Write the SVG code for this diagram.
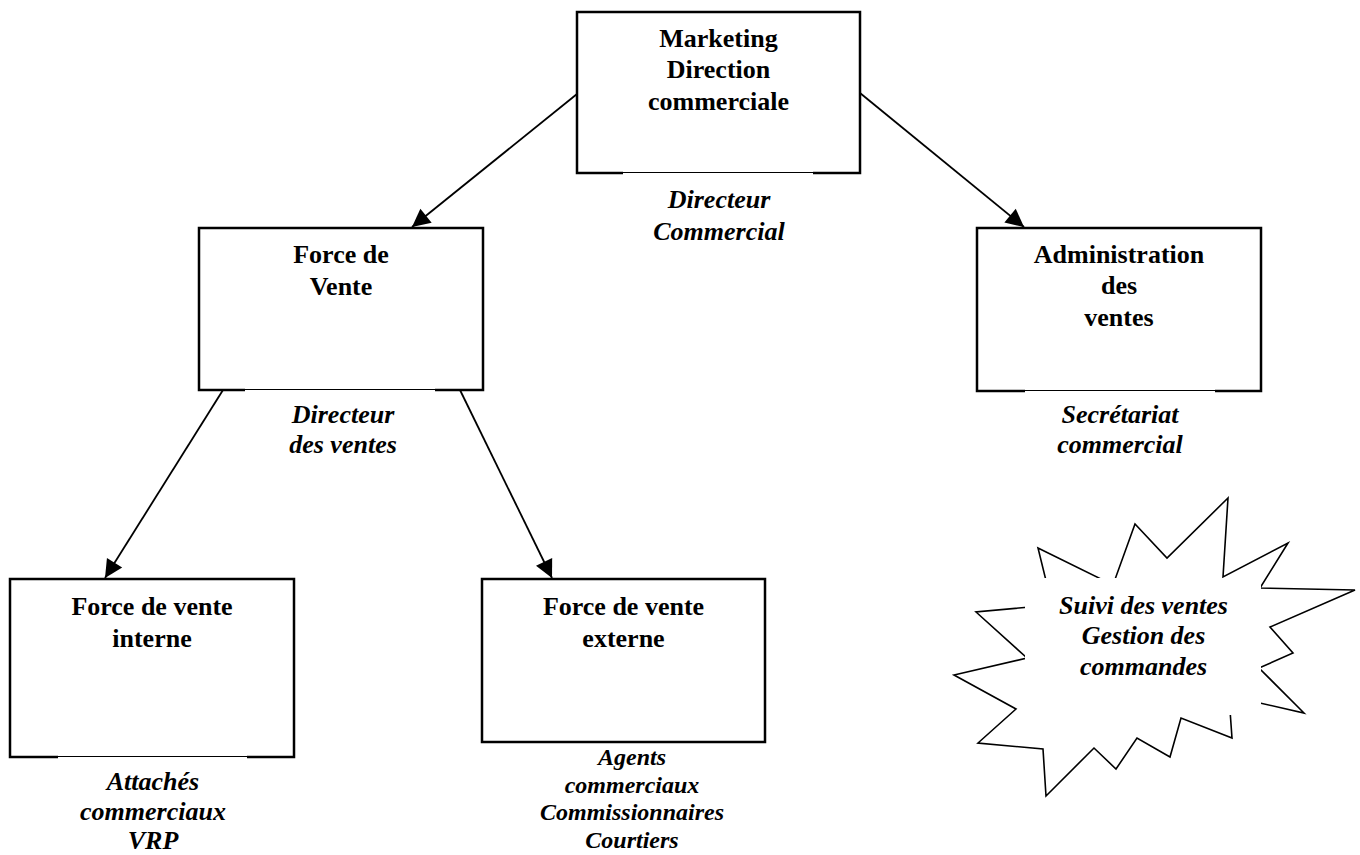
<svg xmlns="http://www.w3.org/2000/svg" width="1360" height="855" viewBox="0 0 1360 855">
<style>
.box{fill:#fff;stroke:#000;stroke-width:2.5}
.t{font-family:"Liberation Serif","Times New Roman",serif;font-weight:bold;font-size:26px;text-anchor:middle;fill:#000}
.i{font-style:italic}
.s{font-size:24px}
.gap{stroke:#fff;stroke-width:4}
.thin{stroke:#000;stroke-width:1}
.conn{stroke:#000;stroke-width:1.8;fill:none}
</style>
<defs>
<marker id="arr" viewBox="0 0 10 10" refX="10" refY="5" markerWidth="10" markerHeight="10" markerUnits="userSpaceOnUse" orient="auto" style="overflow:visible">
<path d="M0,0 L10,5 L0,10 z" fill="#000" transform="scale(1.8)" transform-origin="10 5"/>
</marker>
</defs>
<rect width="1360" height="855" fill="#fff"/>
<g id="connectors">
<line class="conn" x1="577" y1="94" x2="412" y2="227" marker-end="url(#arr)"/>
<line class="conn" x1="860" y1="93" x2="1024" y2="227" marker-end="url(#arr)"/>
<line class="conn" x1="223" y1="390" x2="105" y2="578" marker-end="url(#arr)"/>
<line class="conn" x1="460" y1="390" x2="552" y2="578" marker-end="url(#arr)"/>
</g>
<g id="n-top">
<rect class="box" x="577" y="12" width="283" height="161"/>
<line class="gap" x1="623" y1="173" x2="813" y2="173"/><line class="thin" x1="623" y1="172.5" x2="813" y2="172.5"/>
<text class="t" x="718.5" y="47">Marketing</text>
<text class="t" x="718.5" y="78">Direction</text>
<text class="t" x="718.5" y="110">commerciale</text>
<text class="t i" x="719" y="208">Directeur</text>
<text class="t i" x="719" y="240">Commercial</text>
</g>
<g id="n-fdv">
<rect class="box" x="199" y="228" width="284" height="162"/>
<line class="gap" x1="245" y1="390" x2="435" y2="390"/><line class="thin" x1="245" y1="389.5" x2="435" y2="389.5"/>
<text class="t" x="341" y="263">Force de</text>
<text class="t" x="341" y="295">Vente</text>
<text class="t i" x="343" y="423">Directeur</text>
<text class="t i" x="343" y="453">des ventes</text>
</g>
<g id="n-adm">
<rect class="box" x="977" y="228" width="284" height="163"/>
<line class="gap" x1="1025" y1="391" x2="1215" y2="391"/><line class="thin" x1="1025" y1="390.5" x2="1215" y2="390.5"/>
<text class="t" x="1119" y="263">Administration</text>
<text class="t" x="1119" y="294">des</text>
<text class="t" x="1119" y="326">ventes</text>
<text class="t i" x="1120" y="423">Secrétariat</text>
<text class="t i" x="1120" y="453">commercial</text>
</g>
<g id="n-int">
<rect class="box" x="10" y="579" width="284" height="178"/>
<line class="gap" x1="58" y1="757" x2="247" y2="757"/><line class="thin" x1="58" y1="756.5" x2="247" y2="756.5"/>
<text class="t" x="152" y="615">Force de vente</text>
<text class="t" x="152" y="647">interne</text>
<text class="t i" x="153" y="790">Attachés</text>
<text class="t i" x="153" y="820">commerciaux</text>
<text class="t i" x="153" y="849">VRP</text>
</g>
<g id="n-ext">
<rect class="box" x="482" y="579" width="283" height="163"/>
<text class="t" x="623.5" y="615">Force de vente</text>
<text class="t" x="623.5" y="647">externe</text>
<text class="t i s" x="632" y="765">Agents</text>
<text class="t i s" x="632" y="793">commerciaux</text>
<text class="t i s" x="632" y="820">Commissionnaires</text>
<text class="t i s" x="632" y="848">Courtiers</text>
</g>
<g id="n-burst">
<polygon fill="#fff" stroke="#000" stroke-width="1.6" stroke-linejoin="miter" points="1228,498 1223,577 1288,543 1260,588 1355,590 1270,627 1293,653 1259,668 1304,713 1229,696 1232,738 1181,718 1170,757 1137,738 1116,769 1094,748 1046,796 1043,749 978,743 1016,709 954,675 1027,658 976,612 1052,605 1038,548 1113,585 1135,524 1167,558"/>
<rect x="1025" y="578" width="236" height="137" fill="#fff"/>
<text class="t i" x="1143.5" y="614">Suivi des ventes</text>
<text class="t i" x="1143.5" y="644">Gestion des</text>
<text class="t i" x="1143.5" y="675">commandes</text>
</g>
</svg>
